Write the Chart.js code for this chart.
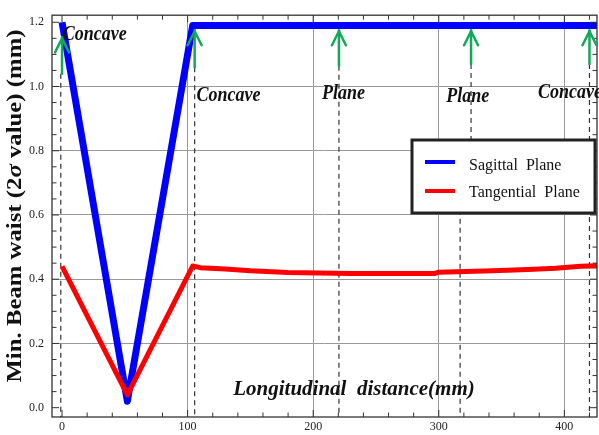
<!DOCTYPE html>
<html><head><meta charset="utf-8">
<script src="https://cdn.jsdelivr.net/npm/chart.js@4.4.1/dist/chart.umd.min.js"></script>
<style>html,body{margin:0;padding:0;background:#fff}#wrap{width:599px;height:435px;position:relative}</style>
</head><body><div id="wrap"><canvas id="c"></canvas></div>
<script>
// ---- data ----
const sagittalX = [0, 52, 104, 430];
const sagittalY = [1.20, 0.02, 1.19, 1.19];
const tangentialX = [0, 52, 104, 110, 130, 150, 180, 230, 297, 300, 343, 371, 393, 413, 430];
const tangentialY = [0.44, 0.04, 0.441, 0.436, 0.432, 0.426, 0.421, 0.418, 0.418, 0.422, 0.426, 0.430, 0.434, 0.440, 0.442];
const seriesNames = ["Sagittal  Plane", "Tangential  Plane"];
const xTickLabels = [0, 100, 200, 300, 400];
const yTickLabels = [0.0, 0.2, 0.4, 0.6, 0.8, 1.0, 1.2];
const xMinorStep = 20;
const yMinorStep = 0.05;
// mirror annotations (data units)
const mirrorX = [0, 105.6, 220.5, 325.7, 420];
const mirrorTypes = ["Concave", "Concave", "Plane", "Plane", "Concave"];
const labelX = [0.5, 107, 207, 306, 379];
const labelY = [1.144, 0.955, 0.96, 0.953, 0.965];
const arrowTail = [1.04, 1.06, 1.065, 1.07, 1.07];
const arrowHead = [1.153, 1.175, 1.175, 1.175, 1.175];
const dashX = [-1, 105.6, 220.5, 325.7, 317, 420];
const dashTop = [1.04, 1.06, 1.065, 1.07, 0.70, 1.07];
const dashBottom = [-0.03, -0.03, -0.03, 0.70, -0.03, -0.03];
const xTitle = "Longitudinal  distance(mm)";
const yTitleParts = ["Min. Beam waist (2", "\u03C3", " value) (mm)"];

const sagPts = sagittalX.map((x, i) => ({x, y: sagittalY[i]}));
const tanPts = tangentialX.map((x, i) => ({x, y: tangentialY[i]}));
const SERIF = '"Liberation Serif","DejaVu Serif",serif';

function near(v, m, eps) { return Math.abs(v / m - Math.round(v / m)) < (eps || 1e-6); }
function isLabel(v, list) { return list.some(t => Math.abs(t - v) < 1e-6); }

function txt(ctx, s, x, y, font, sx, sy, align, color) {
  ctx.save();
  ctx.translate(x, y); ctx.scale(sx, sy);
  ctx.font = font; ctx.textAlign = align; ctx.textBaseline = 'alphabetic';
  ctx.fillStyle = color; ctx.fillText(s, 0, 0);
  ctx.restore();
}

const under = {
  id: 'under',
  beforeDatasetsDraw(chart) {
    const {ctx, scales: {x, y}} = chart;
    const a = chart.chartArea;
    ctx.save();
    ctx.beginPath(); ctx.rect(a.left, a.top, a.right - a.left, a.bottom - a.top); ctx.clip();
    ctx.strokeStyle = '#333'; ctx.lineWidth = 1.2; ctx.setLineDash([5, 4]);
    dashX.forEach((dx, i) => {
      const px = x.getPixelForValue(dx);
      ctx.beginPath();
      ctx.moveTo(px, y.getPixelForValue(dashTop[i]));
      ctx.lineTo(px, y.getPixelForValue(dashBottom[i]));
      ctx.stroke();
    });
    ctx.restore();
  },
  afterDatasetsDraw(chart) {
    const {ctx, scales: {x, y}} = chart;
    const a = chart.chartArea;
    // frame
    ctx.save();
    ctx.strokeStyle = '#333'; ctx.lineWidth = 1.3;
    ctx.strokeRect(a.left, a.top, a.right - a.left, a.bottom - a.top);
    // inward ticks
    ctx.lineWidth = 1;
    x.ticks.forEach(t => {
      const px = x.getPixelForValue(t.value);
      const L = isLabel(t.value, xTickLabels) ? 7 : 4.5;
      ctx.beginPath(); ctx.moveTo(px, a.bottom); ctx.lineTo(px, a.bottom - L);
      ctx.moveTo(px, a.top); ctx.lineTo(px, a.top + L); ctx.stroke();
    });
    y.ticks.forEach(t => {
      const py = y.getPixelForValue(t.value);
      const L = isLabel(t.value, yTickLabels) ? 7 : 4.5;
      ctx.beginPath(); ctx.moveTo(a.left, py); ctx.lineTo(a.left + L, py);
      ctx.moveTo(a.right, py); ctx.lineTo(a.right - L, py); ctx.stroke();
    });
    ctx.restore();

    // arrows
    ctx.save();
    ctx.strokeStyle = '#12a85a'; ctx.lineWidth = 2.5; ctx.lineCap = 'round'; ctx.lineJoin = 'round';
    mirrorX.forEach((mx, i) => {
      const px = x.getPixelForValue(mx);
      const t = y.getPixelForValue(arrowTail[i]);
      const h = y.getPixelForValue(arrowHead[i]);
      ctx.beginPath(); ctx.moveTo(px, t); ctx.lineTo(px, h); ctx.stroke();
      ctx.beginPath(); ctx.moveTo(px - 7, h + 15); ctx.lineTo(px, h + 1); ctx.lineTo(px + 7, h + 15); ctx.stroke();
    });
    ctx.restore();

    // mirror labels
    mirrorTypes.forEach((s, i) => {
      txt(ctx, s, x.getPixelForValue(labelX[i]), y.getPixelForValue(labelY[i]),
        'bold italic 18px ' + SERIF, 1, 1.17, 'left', '#111');
    });

    // x title (inside plot)
    txt(ctx, xTitle, x.getPixelForValue(232.5), y.getPixelForValue(0.04),
      'bold italic 21px ' + SERIF, 1, 1, 'center', '#111');

    // y title
    ctx.save();
    ctx.translate(21, 206); ctx.rotate(-Math.PI / 2);
    const fonts = ['bold 20px ' + SERIF, 'bold italic 20px ' + SERIF, 'bold 20px ' + SERIF];
    let w = 0;
    yTitleParts.forEach((p, i) => { ctx.font = fonts[i]; w += ctx.measureText(p).width; });
    const sx = 353 / w;
    ctx.scale(sx, 1);
    ctx.textBaseline = 'alphabetic'; ctx.textAlign = 'left'; ctx.fillStyle = '#111';
    let cx = -w / 2;
    yTitleParts.forEach((p, i) => { ctx.font = fonts[i]; ctx.fillText(p, cx, 0); cx += ctx.measureText(p).width; });
    ctx.restore();

    // legend
    ctx.save();
    const lx = 412, ly = 140, lw = 183, lh = 73;
    ctx.fillStyle = '#fff'; ctx.fillRect(lx, ly, lw, lh);
    ctx.strokeStyle = '#222'; ctx.lineWidth = 3; ctx.strokeRect(lx, ly, lw, lh);
    const ds = chart.data.datasets;
    const rows = [162, 191], bases = [170, 196.5];
    [0, 1].forEach(i => {
      ctx.strokeStyle = ds[i].borderColor; ctx.lineWidth = 4;
      ctx.beginPath(); ctx.moveTo(425, rows[i]); ctx.lineTo(455, rows[i]); ctx.stroke();
      txt(ctx, ds[i].label, 469, bases[i], '16px ' + SERIF, 1, 1.1, 'left', '#111');
    });
    ctx.restore();
  }
};

function stepTicks(lo, hi, step) {
  const out = [];
  const n = Math.round((hi - lo) / step);
  for (let i = 0; i <= n; i++) out.push({value: Math.round((lo + i * step) * 1e6) / 1e6});
  return out;
}

new Chart(document.getElementById('c'), {
  type: 'line',
  data: {
    datasets: [
      {label: seriesNames[0], data: sagPts, borderColor: '#0000ff', borderWidth: 7, pointRadius: 0, tension: 0, order: 1, borderJoinStyle: 'round'},
      {label: seriesNames[1], data: tanPts, borderColor: '#ff0000', borderWidth: 5, pointRadius: 0, tension: 0, order: 0, borderJoinStyle: 'round'}
    ]
  },
  options: {
    responsive: true, maintainAspectRatio: false, animation: false,
    devicePixelRatio: 1,
    layout: {padding: {top: 10, right: 2, left: 0, bottom: 0}},
    plugins: {legend: {display: false}, tooltip: {enabled: false}},
    scales: {
      x: {
        type: 'linear', min: -8, max: 426,
        afterFit: s => { s.height = 18; },
        afterBuildTicks: s => { s.ticks = stepTicks(xTickLabels[0], 420, xMinorStep); },
        ticks: {
          autoSkip: false, maxRotation: 0, padding: 3,
          font: {family: SERIF, size: 12}, color: '#222',
          callback: v => isLabel(v, xTickLabels) ? String(Math.round(v)) : ''
        },
        grid: {drawTicks: false, lineWidth: 1,
          color: c => (c.tick && isLabel(c.tick.value, xTickLabels) && c.tick.value > 0) ? '#999' : 'rgba(0,0,0,0)'},
        border: {display: false}
      },
      y: {
        type: 'linear', min: -0.029, max: 1.222,
        afterFit: s => { s.width = 52; },
        afterBuildTicks: s => { s.ticks = stepTicks(yTickLabels[0], yTickLabels[yTickLabels.length - 1], yMinorStep); },
        ticks: {
          autoSkip: false, padding: 8,
          font: {family: SERIF, size: 12}, color: '#222',
          callback: v => isLabel(v, yTickLabels) ? v.toFixed(1) : ''
        },
        grid: {drawTicks: false, lineWidth: 1,
          color: c => (c.tick && isLabel(c.tick.value, yTickLabels) && c.tick.value > 0.1 && c.tick.value < 1.1) ? '#999' : 'rgba(0,0,0,0)'},
        border: {display: false}
      }
    }
  },
  plugins: [under]
});
</script>
</body></html>
